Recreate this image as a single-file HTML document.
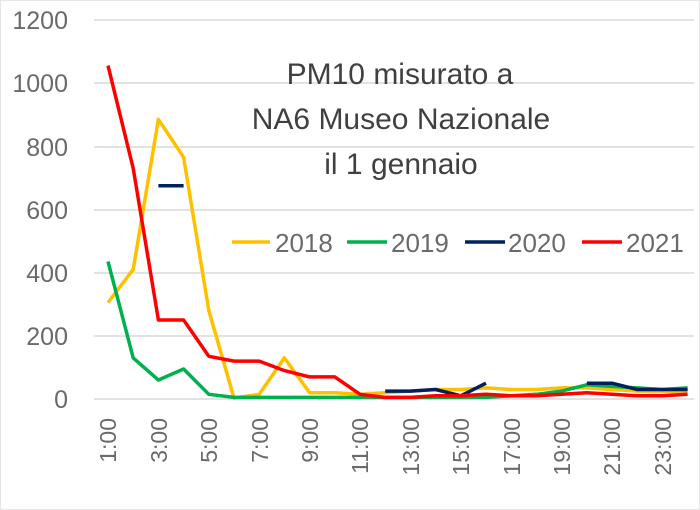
<!DOCTYPE html>
<html><head><meta charset="utf-8"><style>body{margin:0;background:#fff}svg{display:block}</style></head>
<body>
<svg width="700" height="510" viewBox="0 0 700 510" xmlns="http://www.w3.org/2000/svg" font-family="Liberation Sans, sans-serif">
<rect x="0.5" y="0.5" width="699" height="509" fill="#fff" stroke="#e6e6e6"/>
<g stroke="#d9d9d9" stroke-width="1.5">
<line x1="94" x2="694" y1="20" y2="20"/><line x1="94" x2="694" y1="83" y2="83"/><line x1="94" x2="694" y1="147" y2="147"/><line x1="94" x2="694" y1="210" y2="210"/><line x1="94" x2="694" y1="273" y2="273"/><line x1="94" x2="694" y1="336" y2="336"/><line x1="94" x2="694" y1="399" y2="399"/>
</g>
<g fill="#6a6a6a" font-size="25" text-anchor="end">
<text x="68" y="29">1200</text><text x="68" y="92">1000</text><text x="68" y="156">800</text><text x="68" y="219">600</text><text x="68" y="282">400</text><text x="68" y="345">200</text><text x="68" y="408">0</text>
</g>
<g fill="#6a6a6a" font-size="23" text-anchor="end">
<text transform="translate(116,418) rotate(-90)">1:00</text>
<text transform="translate(167,418) rotate(-90)">3:00</text>
<text transform="translate(217,418) rotate(-90)">5:00</text>
<text transform="translate(268,418) rotate(-90)">7:00</text>
<text transform="translate(318,418) rotate(-90)">9:00</text>
<text transform="translate(368,418) rotate(-90)">11:00</text>
<text transform="translate(419,418) rotate(-90)">13:00</text>
<text transform="translate(469,418) rotate(-90)">15:00</text>
<text transform="translate(520,418) rotate(-90)">17:00</text>
<text transform="translate(570,418) rotate(-90)">19:00</text>
<text transform="translate(620,418) rotate(-90)">21:00</text>
<text transform="translate(671,418) rotate(-90)">23:00</text>
</g>
<g fill="#404040" font-size="30" text-anchor="middle">
<text x="400" y="84">PM10 misurato a</text>
<text x="401" y="129">NA6 Museo Nazionale</text>
<text x="401" y="174">il 1 gennaio</text>
</g>
<g fill="none" stroke-width="3.5" stroke-linejoin="round">
<polyline id="s18" stroke="#ffc000" points=""/>
<polyline id="s19" stroke="#00b050" points=""/>
<polyline id="s20a" stroke="#002060" points=""/>
<polyline id="s20b" stroke="#002060" points=""/>
<polyline id="s20c" stroke="#002060" points=""/>
<polyline id="s21" stroke="#ff0000" points=""/>
</g>
<g font-size="26" fill="#6a6a6a">
<line x1="232" x2="270" y1="242" y2="242" stroke="#ffc000" stroke-width="3.5"/><text x="275" y="252">2018</text>
<line x1="347" x2="387" y1="242" y2="242" stroke="#00b050" stroke-width="3.5"/><text x="391" y="252">2019</text>
<line x1="465" x2="505" y1="242" y2="242" stroke="#002060" stroke-width="3.5"/><text x="508" y="252">2020</text>
<line x1="582" x2="622" y1="242" y2="242" stroke="#ff0000" stroke-width="3.5"/><text x="626" y="252">2021</text>
</g>
<script>
function pts(start,arr){return arr.map((v,i)=>((108+(start-1+i)*25.2).toFixed(1))+','+(399-v*0.316).toFixed(1)).join(' ');}
document.getElementById('s18').setAttribute('points',pts(1,[305,410,885,765,280,3,15,130,20,20,15,20,25,30,30,35,30,30,35,35,30,25,25,20]));
document.getElementById('s19').setAttribute('points',pts(1,[435,130,60,95,15,5,5,5,5,5,5,5,5,5,5,5,10,15,25,45,40,35,30,35]));
document.getElementById('s20a').setAttribute('points',pts(3,[675,675]));
document.getElementById('s20b').setAttribute('points',pts(12,[25,25,30,10,50]));
document.getElementById('s20c').setAttribute('points',pts(20,[50,50,30,30,30]));
document.getElementById('s21').setAttribute('points',pts(1,[1055,730,250,250,135,120,120,90,70,70,15,5,5,10,10,15,10,10,15,20,15,10,10,15]));
</script>
</svg>
</body></html>
